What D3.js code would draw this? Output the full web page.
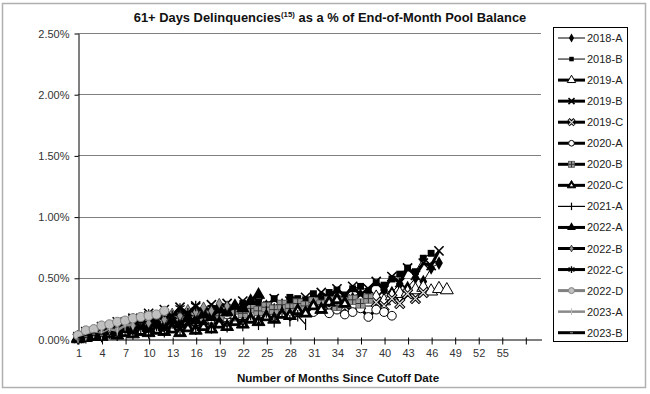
<!DOCTYPE html>
<html><head><meta charset="utf-8">
<script src="https://cdn.jsdelivr.net/npm/d3@7"></script>
<style>body{margin:0;background:#fff}svg{display:block;font-family:"Liberation Sans",Arial,sans-serif}</style>
</head><body><svg id="c" width="650" height="394"></svg>
<script>
// ---------- data ----------
const seriesNames = ["2018-A","2018-B","2019-A","2019-B","2019-C","2020-A","2020-B","2020-C","2021-A","2022-A","2022-B","2022-C","2022-D","2023-A","2023-B"];
const s2018A = [0.01,0.04,0.06,0.09,0.08,0.11,0.10,0.13,0.12,0.15,0.14,0.13,0.17,0.16,0.15,0.19,0.18,0.21,0.18,0.22,0.21,0.24,0.21,0.25,0.27,0.24,0.28,0.25,0.29,0.28,0.27,0.31,0.30,0.34,0.30,0.33,0.36,0.35,0.34,0.40,0.38,0.45,0.42,0.50,0.47,0.58,0.62];
const s2018B = [0.00,0.02,0.05,0.07,0.10,0.12,0.09,0.13,0.15,0.12,0.17,0.19,0.15,0.20,0.22,0.18,0.23,0.25,0.21,0.26,0.24,0.29,0.25,0.30,0.28,0.33,0.29,0.34,0.33,0.32,0.37,0.33,0.38,0.40,0.36,0.41,0.43,0.39,0.46,0.44,0.49,0.53,0.58,0.55,0.66,0.70];
const s2019A = [0.01,0.02,0.04,0.05,0.07,0.06,0.09,0.08,0.11,0.10,0.12,0.11,0.14,0.13,0.16,0.14,0.17,0.16,0.19,0.17,0.20,0.19,0.22,0.20,0.23,0.21,0.24,0.22,0.26,0.24,0.27,0.25,0.29,0.27,0.31,0.28,0.32,0.30,0.34,0.31,0.35,0.37,0.38,0.40,0.42,0.39,0.41,0.40];
const s2019B = [0.02,0.06,0.05,0.10,0.08,0.14,0.11,0.17,0.13,0.21,0.16,0.24,0.19,0.26,0.20,0.27,0.21,0.28,0.22,0.29,0.23,0.31,0.24,0.30,0.26,0.33,0.27,0.31,0.29,0.34,0.30,0.38,0.33,0.41,0.35,0.43,0.36,0.41,0.47,0.40,0.51,0.46,0.58,0.52,0.62,0.60,0.72];
const s2019C = [0.01,0.03,0.05,0.04,0.07,0.09,0.06,0.12,0.08,0.14,0.11,0.17,0.14,0.19,0.15,0.21,0.16,0.23,0.17,0.21,0.18,0.22,0.19,0.24,0.20,0.25,0.21,0.26,0.22,0.27,0.24,0.29,0.25,0.31,0.26,0.32,0.28,0.34,0.30,0.27,0.33,0.29,0.37,0.33,0.38];
const s2020A = [0.02,0.05,0.04,0.07,0.06,0.09,0.08,0.10,0.11,0.13,0.12,0.15,0.14,0.17,0.16,0.18,0.17,0.19,0.18,0.20,0.19,0.21,0.20,0.22,0.21,0.23,0.22,0.21,0.23,0.25,0.22,0.26,0.21,0.24,0.20,0.22,0.25,0.18,0.24,0.22,0.19];
const s2020B = [0.01,0.03,0.04,0.06,0.07,0.06,0.09,0.11,0.10,0.13,0.14,0.12,0.16,0.17,0.15,0.19,0.18,0.21,0.19,0.22,0.24,0.21,0.25,0.23,0.26,0.24,0.28,0.25,0.29,0.27,0.30,0.28,0.31,0.27,0.30,0.32,0.29,0.33];
const s2020C = [0.00,0.01,0.02,0.02,0.04,0.03,0.05,0.04,0.06,0.05,0.07,0.06,0.08,0.05,0.09,0.07,0.10,0.08,0.12,0.10,0.14,0.12,0.16,0.14,0.18,0.16,0.20,0.19,0.23,0.21,0.27,0.24,0.30,0.32,0.29];
const s2021A = [0.00,0.01,0.03,0.02,0.05,0.03,0.07,0.04,0.09,0.05,0.11,0.06,0.13,0.07,0.15,0.08,0.16,0.09,0.18,0.10,0.19,0.11,0.20,0.12,0.22,0.14,0.23,0.15,0.19,0.12];
const s2022A = [0.01,0.02,0.04,0.03,0.06,0.05,0.08,0.07,0.11,0.09,0.13,0.10,0.15,0.12,0.17,0.15,0.20,0.18,0.24,0.22,0.27,0.25,0.31,0.36];
const s2022B = [0.01,0.03,0.05,0.06,0.09,0.08,0.12,0.11,0.15,0.13,0.18,0.16,0.21,0.19,0.24,0.22,0.26,0.23,0.29,0.27];
const s2022C = [0.02,0.06,0.05,0.09,0.08,0.13,0.11,0.17,0.14,0.20,0.16,0.22,0.19,0.25,0.21,0.27];
const s2022D = [0.03,0.07,0.08,0.11,0.12,0.14,0.15,0.17,0.18,0.19,0.20,0.23];
const s2023A = [0.01,0.03,0.05,0.04,0.08,0.07,0.11,0.12];
const s2023B = [0.00,0.02,0.04,0.03,0.06];
const seriesValues = [s2018A,s2018B,s2019A,s2019B,s2019C,s2020A,s2020B,s2020C,s2021A,s2022A,s2022B,s2022C,s2022D,s2023A,s2023B];
const yTicks = [0,0.5,1.0,1.5,2.0,2.5];
const xTickValues = [1,4,7,10,13,16,19,22,25,28,31,34,37,40,43,46,49,52,55,58];
const xTickLabels = ["1","4","7","10","13","16","19","22","25","28","31","34","37","40","43","46","49","52","55",""];

// ---------- styles ----------
const lineStyle = [
 {c:"#000",w:1,m:"diamond"},{c:"#000",w:1,m:"square"},{c:"#000",w:3,m:"triOpen"},
 {c:"#000",w:3,m:"x"},{c:"#000",w:3,m:"xbox"},{c:"#000",w:3,m:"circOpen"},
 {c:"#000",w:3,m:"plusbox"},{c:"#000",w:3,m:"tri2"},{c:"#000",w:1.2,m:"vdash"},
 {c:"#000",w:3,m:"tri"},{c:"#000",w:3,m:"smalldiamond"},{c:"#000",w:3,m:"asterisk"},
 {c:"#808080",w:3,m:"circGrey"},{c:"#8a8a8a",w:2.5,m:"plusGrey"},{c:"#000",w:3,m:"dash"}
];

const svg = d3.select("#c");
svg.append("rect").attr("x",2.5).attr("y",3.5).attr("width",643).attr("height",384)
  .attr("fill","#fff").attr("stroke","#b0b0b0").attr("stroke-width",1.5);

const L=78, R=541, T=33, B=339;
const x = d3.scaleLinear().domain([1,60]).range([L,R]);
const y = d3.scaleLinear().domain([0,2.5]).range([B,T]);

svg.append("g").selectAll("line").data(yTicks.filter(d=>d>0)).join("line")
  .attr("x1",L).attr("x2",R).attr("y1",d=>Math.round(y(d))+0.5).attr("y2",d=>Math.round(y(d))+0.5)
  .attr("stroke","#808080").attr("stroke-width",1);

const yAxis = d3.axisLeft(y).tickValues(yTicks).tickFormat(d=>d.toFixed(2)+"%").tickSize(4).tickSizeOuter(0);
const gy = svg.append("g").attr("transform",`translate(${L+0.5},0.5)`).call(yAxis);
gy.select(".domain").attr("stroke","#000");
gy.selectAll(".tick line").attr("stroke","#000");
gy.selectAll("text").attr("font-size",11).attr("fill","#333").attr("x",-9)
  .attr("font-family","Liberation Sans, Arial, sans-serif");

const xAxis = d3.axisBottom(x).tickValues(xTickValues).tickFormat((d,i)=>xTickLabels[i]).tickSize(5).tickSizeOuter(0);
const gx = svg.append("g").attr("transform",`translate(0.5,${B+0.5})`).call(xAxis);
gx.select(".domain").attr("stroke","#000");
gx.selectAll(".tick line").attr("stroke","#000").attr("y1",-2);
gx.selectAll("text").attr("font-size",11).attr("fill","#333").attr("dy","0.85em")
  .attr("font-family","Liberation Sans, Arial, sans-serif");

function marker(g, type, s){
  s = s||1;
  const sym = (t,size)=>d3.symbol().type(t).size(size*s*s)();
  const k = s;
  switch(type){
    case "diamond": g.append("path").attr("d",sym(d3.symbolDiamond,40)).attr("fill","#000"); break;
    case "square": g.append("path").attr("d",sym(d3.symbolSquare,36)).attr("fill","#000"); break;
    case "triOpen": g.append("path").attr("d",sym(d3.symbolTriangle,55)).attr("fill","#fff").attr("stroke","#000").attr("stroke-width",1); break;
    case "x": g.append("path").attr("d",`M${-4*k},${-4*k}L${4*k},${4*k}M${-4*k},${4*k}L${4*k},${-4*k}`).attr("stroke","#000").attr("stroke-width",1.6); break;
    case "xbox":
      g.append("path").attr("d",`M${-4*k},${-4*k}L${4*k},${4*k}M${-4*k},${4*k}L${4*k},${-4*k}`).attr("stroke","#000").attr("stroke-width",3.2);
      g.append("path").attr("d",`M${-3.5*k},${-3.5*k}L${3.5*k},${3.5*k}M${-3.5*k},${3.5*k}L${3.5*k},${-3.5*k}`).attr("stroke","#e0e0e0").attr("stroke-width",1.2); break;
    case "circOpen": g.append("circle").attr("r",3.8*k).attr("fill","#fff").attr("stroke","#000").attr("stroke-width",1); break;
    case "plusbox":
      g.append("rect").attr("x",-4*k).attr("y",-4*k).attr("width",8*k).attr("height",8*k).attr("fill","#9a9a9a").attr("stroke","#555").attr("stroke-width",0.8);
      g.append("path").attr("d",`M0,${-4*k}V${4*k}M${-4*k},0H${4*k}`).attr("stroke","#333").attr("stroke-width",1); break;
    case "tri2": g.append("path").attr("d",sym(d3.symbolTriangle,55)).attr("fill","#000").attr("stroke","#000").attr("stroke-width",1);
      g.append("path").attr("d",sym(d3.symbolTriangle,8)).attr("fill","#fff"); break;
    case "vdash": g.append("path").attr("d",`M0,${-5*k}V${5*k}`).attr("stroke","#000").attr("stroke-width",1.2); break;
    case "tri": g.append("path").attr("d",sym(d3.symbolTriangle,60)).attr("fill","#000"); break;
    case "smalldiamond": g.append("path").attr("d",sym(d3.symbolDiamond,24)).attr("fill","#999").attr("stroke","#000").attr("stroke-width",0.6); break;
    case "asterisk": g.append("path").attr("d",`M0,${-4.5*k}V${4.5*k}M${-4*k},${-2.5*k}L${4*k},${2.5*k}M${-4*k},${2.5*k}L${4*k},${-2.5*k}`).attr("stroke","#000").attr("stroke-width",1.3); break;
    case "circGrey": g.append("circle").attr("r",4*k).attr("fill","#c0c0c0").attr("stroke","#808080").attr("stroke-width",1); break;
    case "plusGrey": g.append("path").attr("d",`M0,${-4.5*k}V${4.5*k}`).attr("stroke","#bbb").attr("stroke-width",1); break;
    case "dash": g.append("path").attr("d","M-1.5,0H1.5").attr("stroke","#666").attr("stroke-width",1.5); break;
  }
}

const line = d3.line().x((d,i)=>x(i+1)).y(d=>y(d));
const gs = svg.append("g");
seriesValues.forEach((vals,k)=>{
  const st = lineStyle[k];
  const g = gs.append("g");
  g.append("path").datum(vals).attr("d",line).attr("fill","none")
   .attr("stroke",st.c).attr("stroke-width",st.w).attr("stroke-linejoin","round");
  vals.forEach((v,i)=>{
    const m = g.append("g").attr("transform",`translate(${x(i+1)},${y(v)})`);
    marker(m, st.m, 1.15);
  });
});

const title = svg.append("text").attr("x",330).attr("y",22).attr("text-anchor","middle")
  .attr("font-size",12.9).attr("font-weight","bold").attr("fill","#111");
title.append("tspan").text("61+ Days Delinquencies");
title.append("tspan").text("(15)").attr("font-size",7.8).attr("dy",-5);
title.append("tspan").text(" as a % of End-of-Month Pool Balance").attr("dy",5);

svg.append("text").attr("x",338).attr("y",382).attr("text-anchor","middle")
  .attr("font-size",11.6).attr("font-weight","bold").attr("fill","#111")
  .text("Number of Months Since Cutoff Date");

const lg = svg.append("g");
lg.append("rect").attr("x",553.5).attr("y",27.5).attr("width",74).attr("height",314)
  .attr("fill","#fff").attr("stroke","#000").attr("stroke-width",1);
const lgY0 = 38, lgStep = 21.05;
seriesNames.forEach((n,k)=>{
  const st = lineStyle[k];
  const yy = lgY0 + k*lgStep;
  const g = lg.append("g");
  g.append("line").attr("x1",558).attr("x2",585).attr("y1",yy).attr("y2",yy)
    .attr("stroke",st.c).attr("stroke-width",st.w);
  marker(g.append("g").attr("transform",`translate(571.5,${yy})`), st.m, 0.75);
  g.append("text").attr("x",587).attr("y",yy+4).attr("font-size",11).attr("fill","#222").text(n);
});
</script></body></html>
